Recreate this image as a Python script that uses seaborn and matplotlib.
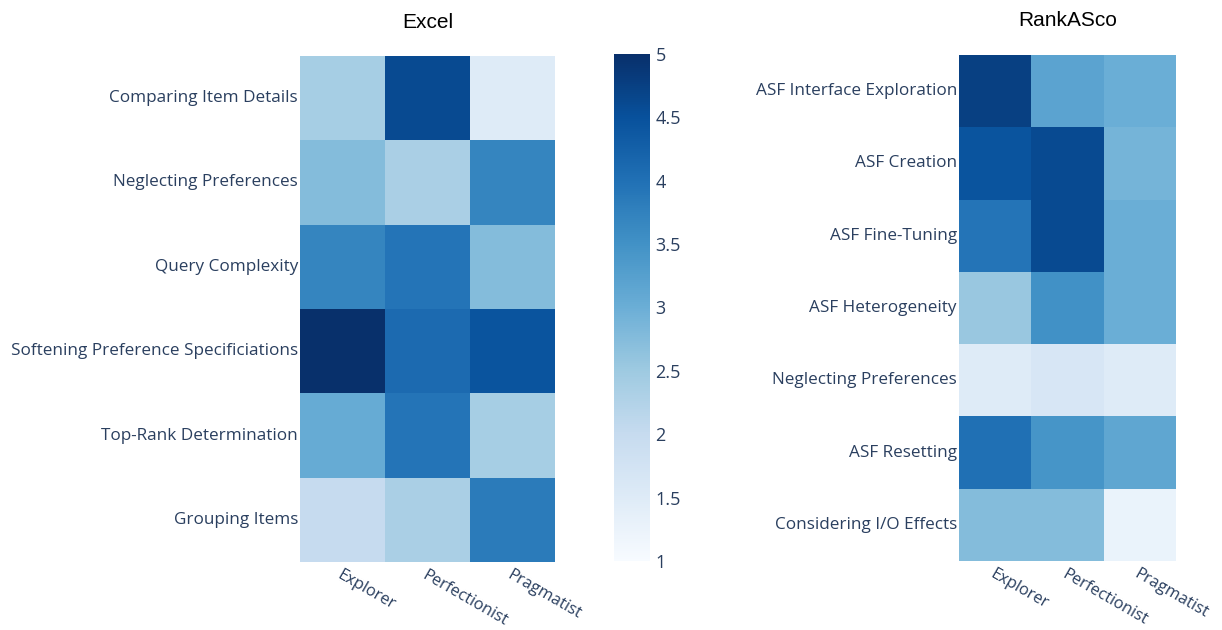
import numpy as np
import pandas as pd
import seaborn as sns
import matplotlib.pyplot as plt

# Data (scale 1..5)
personas = ['Explorer', 'Perfectionist', 'Pragmatist']

excel_tasks = ['Comparing Item Details', 'Neglecting Preferences', 'Query Complexity',
               'Softening Preference Specificiations', 'Top-Rank Determination', 'Grouping Items']
excel_explorer = [2.4, 2.75, 3.7, 5.0, 3.05, 2.0]
excel_perfectionist = [4.6, 2.35, 3.95, 4.1, 3.95, 2.35]
excel_pragmatist = [1.5, 3.7, 2.75, 4.45, 2.4, 3.85]

rankasco_tasks = ['ASF Interface Exploration', 'ASF Creation', 'ASF Fine-Tuning',
                  'ASF Heterogeneity', 'Neglecting Preferences', 'ASF Resetting',
                  'Considering I/O Effects']
rankasco_explorer = [4.75, 4.45, 3.95, 2.55, 1.5, 4.0, 2.75]
rankasco_perfectionist = [3.2, 4.6, 4.6, 3.5, 1.65, 3.45, 2.75]
rankasco_pragmatist = [3.0, 2.9, 3.0, 3.0, 1.5, 3.15, 1.25]

df_excel = pd.DataFrame({'Explorer': excel_explorer,
                         'Perfectionist': excel_perfectionist,
                         'Pragmatist': excel_pragmatist}, index=excel_tasks)
df_rank = pd.DataFrame({'Explorer': rankasco_explorer,
                        'Perfectionist': rankasco_perfectionist,
                        'Pragmatist': rankasco_pragmatist}, index=rankasco_tasks)

tick_color = '#2a3f5f'
W, H = 1222, 630
fig = plt.figure(figsize=(W / 100, H / 100), dpi=100)


def px_axes(x0, y0, x1, y1):
    return fig.add_axes([x0 / W, 1 - y1 / H, (x1 - x0) / W, (y1 - y0) / H])


ax1 = px_axes(300, 56, 555, 562)
cax = px_axes(614, 54, 650, 561)
ax2 = px_axes(959, 55, 1176, 561)

sns.heatmap(df_excel, ax=ax1, cmap='Blues', vmin=1, vmax=5, cbar_ax=cax,
            cbar_kws={'ticks': np.arange(1, 5.01, 0.5)})
sns.heatmap(df_rank, ax=ax2, cmap='Blues', vmin=1, vmax=5, cbar=False)

for ax, title in [(ax1, 'Excel'), (ax2, 'RankASco')]:
    ax.set_xlabel('')
    ax.set_ylabel('')
    ax.tick_params(length=0, pad=1.5)
    ax.set_yticklabels(ax.get_yticklabels(), rotation=0, fontsize=12.3,
                       family='Open Sans', color=tick_color)
    ax.set_xticklabels(ax.get_xticklabels(), rotation=-30, ha='left',
                       rotation_mode='anchor', fontsize=11.8,
                       family='Open Sans', color=tick_color)
    ax.tick_params(axis='x', pad=4)
    ax.text(0.5, 1 + 34 / 506, title, transform=ax.transAxes, ha='center',
            va='center', fontsize=15, family='Liberation Sans', color='black')

cbar = ax1.collections[0].colorbar
cbar.outline.set_visible(False)
cax.tick_params(length=0, pad=4)
cax.set_yticklabels(['1', '1.5', '2', '2.5', '3', '3.5', '4', '4.5', '5'],
                    fontsize=13, family='Open Sans', color=tick_color)

fig.savefig('out.png', dpi=100)
